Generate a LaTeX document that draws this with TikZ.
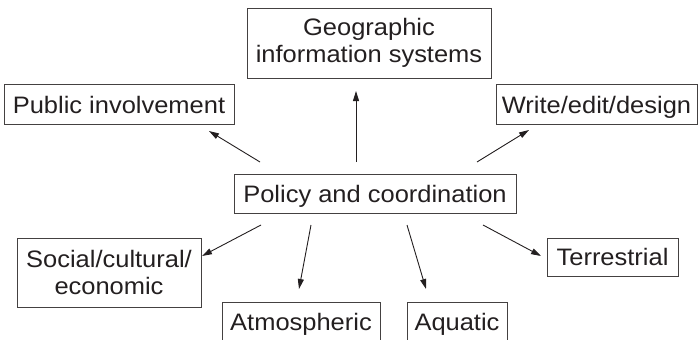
\documentclass[tikz,border=0pt]{standalone}
\usepackage{fontspec}
\setmainfont{Liberation Sans}[FakeStretch=1.07]
\usetikzlibrary{arrows.meta}
\definecolor{ink}{HTML}{231F20}
\tikzset{
  box/.style={draw=ink!85, line width=1pt, inner sep=0pt, text=ink, align=center,
    font=\fontsize{23.8}{27.3}\selectfont},
  oneline/.style={box, text height=17pt, text depth=0pt},
  conn/.style={draw=ink, line width=0.9pt, -{Triangle[length=10pt,width=6pt]}}
}
\begin{document}
\begin{tikzpicture}[x=1pt,y=-1pt]
\useasboundingbox (0,0) rectangle (699,340);
\clip (0,0) rectangle (699,340);
\node[box, minimum width=244pt, minimum height=70pt] (gis) at (369,43) {Geographic\\information systems};
\node[oneline, minimum width=230pt, minimum height=40pt] (pub) at (119,104.5) {Public involvement};
\node[oneline, minimum width=201pt, minimum height=40pt] (wri) at (596.5,104.5) {Write/edit/design};
\node[oneline, minimum width=282pt, minimum height=39pt] (pol) at (375,193.5) {Policy and coordination};
\node[box, minimum width=184pt, minimum height=69pt] (soc) at (109,272.5) {Social/cultural/\\economic};
\node[oneline, minimum width=158pt, minimum height=40pt] (atm) at (301,322) {Atmospheric};
\node[oneline, minimum width=100pt, minimum height=40pt] (aqu) at (457,322) {Aquatic};
\node[oneline, minimum width=131pt, minimum height=38pt] (ter) at (612.5,257) {Terrestrial};
% arrow start points (off the policy box) and tips (short of the target boxes)
\coordinate (sPub) at (260,162);
\coordinate (tPub) at (209,131);
\coordinate (sGis) at (356,162);
\coordinate (tGis) at (356,91);
\coordinate (sWri) at (477,162);
\coordinate (tWri) at (529,130);
\coordinate (sSoc) at (261,225);
\coordinate (tSoc) at (202,256);
\coordinate (sAtm) at (311,225);
\coordinate (tAtm) at (299,289);
\coordinate (sAqu) at (407,225);
\coordinate (tAqu) at (426,289);
\coordinate (sTer) at (483,225);
\coordinate (tTer) at (541,256);
\draw[conn] (sPub) -- (tPub);
\draw[conn] (sGis) -- (tGis);
\draw[conn] (sWri) -- (tWri);
\draw[conn] (sSoc) -- (tSoc);
\draw[conn] (sAtm) -- (tAtm);
\draw[conn] (sAqu) -- (tAqu);
\draw[conn] (sTer) -- (tTer);
\end{tikzpicture}
\end{document}
